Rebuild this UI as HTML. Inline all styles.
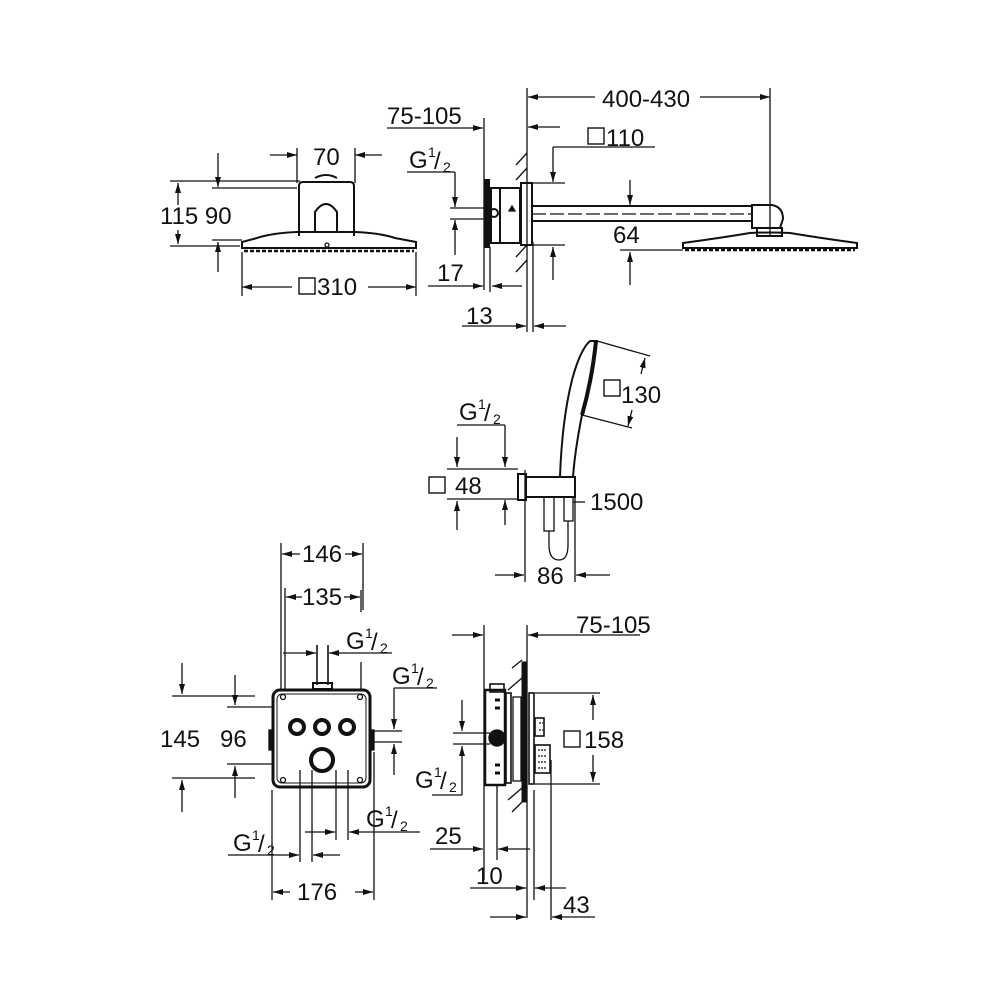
<!DOCTYPE html>
<html><head><meta charset="utf-8"><style>
html,body{margin:0;padding:0;background:#fff}
svg{display:block}
text{font-family:"Liberation Sans",sans-serif;font-size:24px;fill:#111}
.s{font-size:14px}
</style></head><body>
<svg width="1000" height="1000" viewBox="0 0 1000 1000" xmlns="http://www.w3.org/2000/svg">
<defs>
<marker id="a" viewBox="0 0 10 6" refX="10" refY="3" markerWidth="10" markerHeight="6" markerUnits="userSpaceOnUse" orient="auto"><path d="M0,0 L10,3 L0,6 z" fill="#111"/></marker>
</defs>
<g stroke="#111" stroke-width="1.3" fill="none">
<!-- TOP LEFT -->
<line x1="297" y1="148" x2="297" y2="183"/><line x1="355" y1="148" x2="355" y2="183"/>
<line x1="270" y1="155" x2="297" y2="155" marker-end="url(#a)"/>
<line x1="382" y1="155" x2="355" y2="155" marker-end="url(#a)"/>
<path d="M299,236 L299,186 Q299,182 303,182 L350,182 Q354,182 354,186 L354,236" stroke-width="2"/>
<path d="M315,178 Q326,172 337,178" stroke-width="2"/>
<path d="M315,231 L315,212 Q326,196 337,212 L337,231" stroke-width="2"/>
<path d="M242,242 L242,248 L416,248 L416,242 L395,238 Q380,233 355,232 L297,232 Q272,233 257,238 Z" stroke-width="2"/>
<line x1="244" y1="251" x2="414" y2="251" stroke-width="2.5" stroke-dasharray="4 2"/>
<circle cx="327" cy="245" r="2"/>
<line x1="170" y1="181" x2="300" y2="181"/><line x1="170" y1="246" x2="240" y2="246"/>
<line x1="178" y1="205" x2="178" y2="183" marker-end="url(#a)"/>
<line x1="178" y1="230" x2="178" y2="244" marker-end="url(#a)"/>
<line x1="212" y1="188" x2="297" y2="188"/><line x1="212" y1="240" x2="242" y2="240"/>
<line x1="218" y1="153" x2="218" y2="187" marker-end="url(#a)"/>
<line x1="218" y1="272" x2="218" y2="242" marker-end="url(#a)"/>
<line x1="242" y1="252" x2="242" y2="296"/><line x1="416" y1="252" x2="416" y2="296"/>
<line x1="292" y1="287" x2="242" y2="287" marker-end="url(#a)"/>
<line x1="368" y1="287" x2="416" y2="287" marker-end="url(#a)"/>

<!-- TOP RIGHT -->
<line x1="527" y1="88" x2="527" y2="332"/>
<line x1="533" y1="242" x2="533" y2="332"/>
<line x1="484" y1="118" x2="484" y2="290"/>
<line x1="490" y1="247" x2="490" y2="292"/>
<line x1="387" y1="128" x2="483" y2="128" marker-end="url(#a)"/>
<line x1="595" y1="97" x2="528" y2="97" marker-end="url(#a)"/>
<line x1="700" y1="97" x2="770" y2="97" marker-end="url(#a)"/>
<line x1="770" y1="88" x2="770" y2="236"/>
<line x1="560" y1="127" x2="528" y2="127" marker-end="url(#a)"/>
<line x1="655" y1="147" x2="553" y2="147"/>
<line x1="553" y1="147" x2="553" y2="182" marker-end="url(#a)"/>
<line x1="533" y1="183" x2="565" y2="183"/><line x1="533" y1="245" x2="565" y2="245"/>
<line x1="553" y1="280" x2="553" y2="247" marker-end="url(#a)"/>
<line x1="630" y1="180" x2="630" y2="205" marker-end="url(#a)"/>
<line x1="620" y1="250" x2="683" y2="250"/>
<line x1="630" y1="285" x2="630" y2="252" marker-end="url(#a)"/>
<line x1="407" y1="172" x2="455" y2="172"/>
<line x1="455" y1="172" x2="455" y2="207" marker-end="url(#a)"/>
<line x1="450" y1="208" x2="490" y2="208"/><line x1="450" y1="219" x2="490" y2="219"/>
<line x1="455" y1="255" x2="455" y2="220" marker-end="url(#a)"/>
<line x1="428" y1="286" x2="483" y2="286" marker-end="url(#a)"/>
<line x1="522" y1="286" x2="492" y2="286" marker-end="url(#a)"/>
<line x1="462" y1="326" x2="526" y2="326" marker-end="url(#a)"/>
<line x1="566" y1="326" x2="534" y2="326" marker-end="url(#a)"/>
<path d="M485,180 L489,180 L489,247 L485,247 Z" fill="#111" stroke-width="2"/>
<rect x="491" y="188" width="9" height="55" stroke-width="2"/>
<rect x="500" y="188" width="20" height="55" stroke-width="2"/>
<rect x="521" y="183" width="11" height="62" stroke-width="2"/>
<circle cx="494" cy="213" r="4" stroke-width="2"/>
<path d="M509,211 l3,-5 l3,5 z" fill="#111"/>
<path d="M516,165 L527,153 M516,180 L527,168 M516,257 L527,245 M516,272 L527,260"/>
<line x1="532" y1="206" x2="752" y2="206" stroke-width="2"/>
<line x1="532" y1="221" x2="752" y2="221" stroke-width="2"/>
<line x1="532" y1="214" x2="752" y2="214" stroke-dasharray="14 4"/>
<path d="M752,205 L772,205 Q783,207 783,219 L780,228 L752,228 Z" stroke-width="2"/>
<rect x="757" y="228" width="25" height="8" stroke-width="2"/>
<path d="M683,243 L683,248 L857,248 L857,243 Q820,238 790,233 Q770,232 750,233 Q720,238 683,243 Z" stroke-width="2"/>
<line x1="685" y1="250" x2="855" y2="250" stroke-width="2.5" stroke-dasharray="4 2"/>

<!-- HAND SHOWER -->
<line x1="525" y1="470" x2="525" y2="582"/>
<line x1="575" y1="497" x2="575" y2="582"/>
<line x1="495" y1="575" x2="524" y2="575" marker-end="url(#a)"/>
<line x1="610" y1="575" x2="576" y2="575" marker-end="url(#a)"/>
<rect x="518" y="474" width="8" height="26" stroke-width="2"/>
<rect x="526" y="477" width="49" height="20" stroke-width="2"/>
<path d="M560,477 Q562,420 572,380 Q580,350 590,341 L597,341 Q590,380 582,415 Q575,450 573,477" stroke-width="2"/>
<path d="M596,341 Q592,380 582,415" stroke-width="4"/>
<line x1="597" y1="341" x2="650" y2="356"/>
<line x1="582" y1="415" x2="632" y2="428"/>
<line x1="641" y1="374" x2="645" y2="358" marker-end="url(#a)"/>
<line x1="632" y1="410" x2="628" y2="426" marker-end="url(#a)"/>
<rect x="544" y="497" width="10" height="34"/>
<rect x="564" y="497" width="9" height="24"/>
<path d="M549,531 L549,545 Q549,560 559,560 Q568,560 568,545 L568,521"/>
<line x1="573" y1="502" x2="585" y2="502"/>
<line x1="457" y1="425" x2="505" y2="425"/>
<line x1="505" y1="425" x2="505" y2="467" marker-end="url(#a)"/>
<line x1="505" y1="525" x2="505" y2="500" marker-end="url(#a)"/>
<line x1="447" y1="469" x2="518" y2="469"/><line x1="447" y1="499" x2="518" y2="499"/>
<line x1="457" y1="437" x2="457" y2="467" marker-end="url(#a)"/>
<line x1="457" y1="530" x2="457" y2="501" marker-end="url(#a)"/>

<!-- BOTTOM LEFT -->
<line x1="281" y1="543" x2="281" y2="690"/><line x1="285" y1="588" x2="285" y2="690"/>
<line x1="363" y1="543" x2="363" y2="610"/><line x1="361" y1="590" x2="361" y2="612"/>
<line x1="361" y1="662" x2="361" y2="690"/>
<line x1="300" y1="554" x2="282" y2="554" marker-end="url(#a)"/>
<line x1="345" y1="554" x2="362" y2="554" marker-end="url(#a)"/>
<line x1="302" y1="597" x2="286" y2="597" marker-end="url(#a)"/>
<line x1="344" y1="597" x2="360" y2="597" marker-end="url(#a)"/>
<line x1="283" y1="653" x2="316" y2="653" marker-end="url(#a)"/>
<line x1="392" y1="653" x2="329" y2="653" marker-end="url(#a)"/>
<line x1="317" y1="645" x2="317" y2="685" stroke-width="1.6"/><line x1="328" y1="645" x2="328" y2="685" stroke-width="1.6"/>
<rect x="313" y="683" width="19" height="6" stroke-width="2"/>
<rect x="273" y="690" width="97" height="97" rx="7" stroke-width="3"/>
<rect x="277" y="694" width="89" height="89" rx="5" stroke-width="1"/>
<circle cx="297" cy="727" r="7" stroke-width="4"/>
<circle cx="322" cy="727" r="7" stroke-width="4"/>
<circle cx="347" cy="727" r="7" stroke-width="4"/>
<circle cx="322" cy="760" r="11" stroke-width="4"/>
<circle cx="283" cy="697" r="2.5"/><circle cx="360" cy="697" r="2.5"/>
<circle cx="283" cy="780" r="2.5"/><circle cx="360" cy="780" r="2.5"/>
<rect x="269" y="730" width="4" height="20" fill="#111"/>
<rect x="370" y="730" width="4" height="20" fill="#111"/>
<line x1="172" y1="696" x2="255" y2="696"/><line x1="172" y1="778" x2="255" y2="778"/>
<line x1="182" y1="663" x2="182" y2="694" marker-end="url(#a)"/>
<line x1="182" y1="812" x2="182" y2="780" marker-end="url(#a)"/>
<line x1="227" y1="707" x2="273" y2="707"/><line x1="227" y1="764" x2="273" y2="764"/>
<line x1="235" y1="675" x2="235" y2="705" marker-end="url(#a)"/>
<line x1="235" y1="798" x2="235" y2="766" marker-end="url(#a)"/>
<line x1="437" y1="688" x2="394" y2="688"/>
<line x1="394" y1="688" x2="394" y2="729" marker-end="url(#a)"/>
<line x1="374" y1="731" x2="402" y2="731"/><line x1="374" y1="742" x2="402" y2="742"/>
<line x1="394" y1="775" x2="394" y2="744" marker-end="url(#a)"/>
<line x1="300" y1="770" x2="300" y2="862"/><line x1="312" y1="770" x2="312" y2="862"/>
<line x1="336" y1="770" x2="336" y2="840"/><line x1="348" y1="770" x2="348" y2="840"/>
<line x1="305" y1="832" x2="335" y2="832" marker-end="url(#a)"/>
<line x1="420" y1="832" x2="349" y2="832" marker-end="url(#a)"/>
<line x1="228" y1="855" x2="299" y2="855" marker-end="url(#a)"/>
<line x1="340" y1="855" x2="313" y2="855" marker-end="url(#a)"/>
<line x1="272" y1="790" x2="272" y2="900"/><line x1="374" y1="752" x2="374" y2="900"/>
<line x1="290" y1="892" x2="273" y2="892" marker-end="url(#a)"/>
<line x1="355" y1="892" x2="373" y2="892" marker-end="url(#a)"/>

<!-- BOTTOM RIGHT -->
<line x1="484" y1="625" x2="484" y2="880"/>
<line x1="527" y1="625" x2="527" y2="918"/>
<line x1="452" y1="635" x2="483" y2="635" marker-end="url(#a)"/>
<line x1="640" y1="635" x2="528" y2="635" marker-end="url(#a)"/>
<rect x="485" y="690" width="20" height="95" stroke-width="2.5"/>
<rect x="490" y="684" width="14" height="8" stroke-width="1.6"/>
<rect x="506" y="693" width="5" height="90" stroke-width="1.6"/>
<rect x="513" y="697" width="8" height="84" stroke-width="1.3"/>
<circle cx="497" cy="738" r="8" fill="#111"/>
<path d="M495,700 L500,700 M495,708 L500,708 M495,765 L500,765 M495,773 L500,773" stroke-width="3"/>
<rect x="522" y="662" width="5" height="140" fill="#111" stroke-width="1"/>
<rect x="529" y="693" width="5" height="91" stroke-width="1.6"/>
<path d="M512,668 L522,660 M508,690 L522,678 M508,800 L522,788 M512,812 L522,802"/>
<rect x="535" y="718" width="9" height="18" stroke-width="1.6"/>
<rect x="535" y="745" width="15" height="28" stroke-width="1.6"/>
<path d="M538,750 h9 M538,756 h9 M538,762 h9 M538,768 h9 M539,723 h4 M539,730 h4" stroke-dasharray="2 1"/>
<line x1="535" y1="693" x2="600" y2="693"/><line x1="535" y1="784" x2="600" y2="784"/>
<line x1="593" y1="720" x2="593" y2="695" marker-end="url(#a)"/>
<line x1="593" y1="755" x2="593" y2="782" marker-end="url(#a)"/>
<line x1="462" y1="700" x2="462" y2="731" marker-end="url(#a)"/>
<line x1="453" y1="733" x2="490" y2="733"/><line x1="453" y1="744" x2="490" y2="744"/>
<line x1="432" y1="795" x2="462" y2="795"/>
<line x1="462" y1="795" x2="462" y2="746" marker-end="url(#a)"/>
<line x1="497" y1="785" x2="497" y2="860"/>
<line x1="534" y1="790" x2="534" y2="900"/>
<line x1="551" y1="760" x2="551" y2="920"/>
<line x1="430" y1="849" x2="483" y2="849" marker-end="url(#a)"/>
<line x1="530" y1="849" x2="498" y2="849" marker-end="url(#a)"/>
<line x1="470" y1="888" x2="526" y2="888" marker-end="url(#a)"/>
<line x1="566" y1="888" x2="535" y2="888" marker-end="url(#a)"/>
<line x1="490" y1="917" x2="526" y2="917" marker-end="url(#a)"/>
<line x1="595" y1="917" x2="552" y2="917" marker-end="url(#a)"/>
</g>
<g>
<g stroke="#111" stroke-width="1.4" fill="none">
<rect x="299" y="278" width="16" height="16"/>
<rect x="588" y="128" width="16" height="16"/>
<rect x="604" y="380" width="16" height="16"/>
<rect x="429" y="477" width="16" height="16"/>
<rect x="564" y="731" width="16" height="16"/>
</g>
<text x="313" y="165">70</text>
<text x="160" y="224">115 90</text>
<text x="317" y="295">310</text>
<text x="387" y="124">75-105</text>
<text x="602" y="107">400-430</text>
<text x="606" y="146">110</text>
<text x="409" y="168">G</text><text x="428" y="157" class="s">1</text><text x="434" y="169">/</text><text x="443" y="172" class="s">2</text>
<text x="613" y="243">64</text>
<text x="437" y="281">17</text>
<text x="466" y="324">13</text>
<text x="621" y="403">130</text>
<text x="459" y="420">G</text><text x="478" y="409" class="s">1</text><text x="484" y="421">/</text><text x="493" y="424" class="s">2</text>
<text x="455" y="494">48</text>
<text x="590" y="510">1500</text>
<text x="537" y="584">86</text>
<text x="302" y="562">146</text>
<text x="302" y="605">135</text>
<text x="346" y="649">G</text><text x="365" y="638" class="s">1</text><text x="371" y="650">/</text><text x="380" y="653" class="s">2</text>
<text x="392" y="684">G</text><text x="411" y="673" class="s">1</text><text x="417" y="685">/</text><text x="426" y="688" class="s">2</text>
<text x="160" y="747">145</text>
<text x="220" y="747">96</text>
<text x="366" y="827">G</text><text x="385" y="816" class="s">1</text><text x="391" y="828">/</text><text x="400" y="831" class="s">2</text>
<text x="233" y="851">G</text><text x="252" y="840" class="s">1</text><text x="258" y="852">/</text><text x="267" y="855" class="s">2</text>
<text x="297" y="900">176</text>
<text x="576" y="633">75-105</text>
<text x="584" y="748">158</text>
<text x="415" y="788">G</text><text x="434" y="777" class="s">1</text><text x="440" y="789">/</text><text x="449" y="792" class="s">2</text>
<text x="435" y="844">25</text>
<text x="476" y="884">10</text>
<text x="563" y="913">43</text>
</g>
</svg>
</body></html>
